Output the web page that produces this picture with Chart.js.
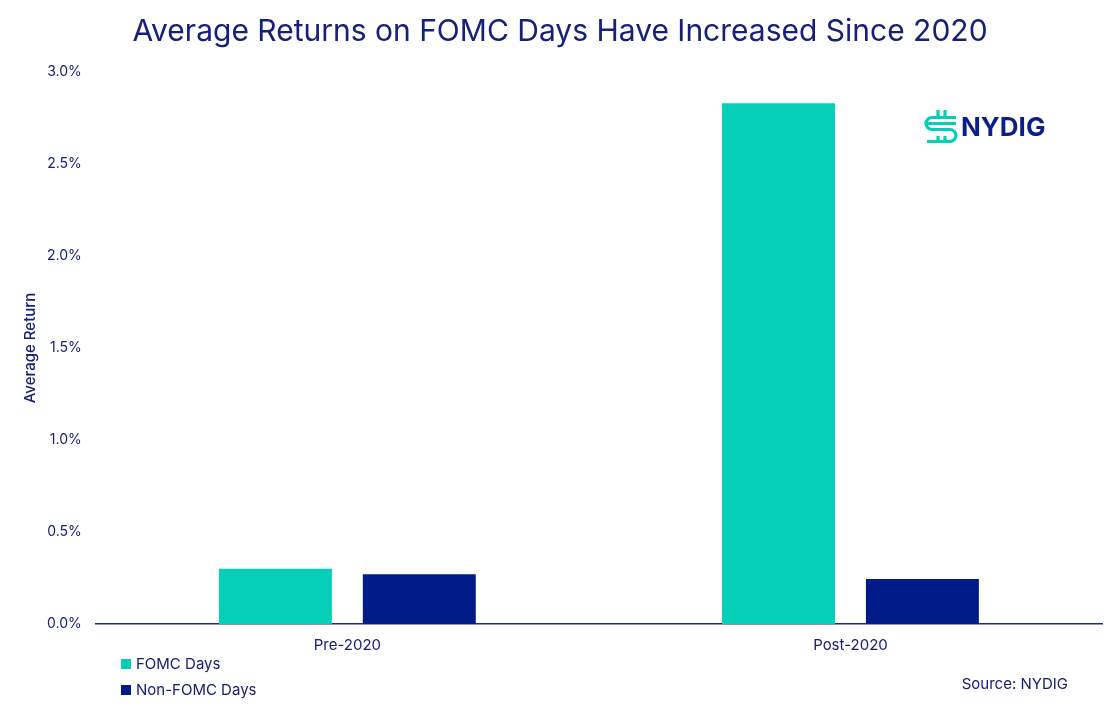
<!DOCTYPE html>
<html>
<head>
<meta charset="utf-8">
<script src="https://cdn.jsdelivr.net/npm/chart.js@4"></script>
<style>
  body { margin: 0; background: #fff; }
  #wrap { width: 1120px; height: 705px; position: relative; }
</style>
</head>
<body>
<div id="wrap"><canvas id="myChart"></canvas></div>
<script>
const categories = ['Pre-2020', 'Post-2020']
const fomcDays = [0.30, 2.83]
const nonFomcDays = [0.27, 0.245]
const yTicks = [0, 0.5, 1.0, 1.5, 2.0, 2.5, 3.0]

const teal = '#05CFB7'
const navy = '#001A87'
const textColor = '#14207A'

// title, legend, source and logo drawn by hand after the chart
const extras = {
    id: 'extras',
    afterDraw(chart) {
        const ctx = chart.ctx
        ctx.save()
        // title, centred on the page
        ctx.fillStyle = textColor
        ctx.font = '30px Inter'
        ctx.textAlign = 'center'
        ctx.textBaseline = 'middle'
        ctx.fillText('Average Returns on FOMC Days Have Increased Since 2020', 560, 32)
        // legend
        chart.data.datasets.forEach((ds, i) => {
            const y = 664 + i * 26
            ctx.fillStyle = ds.backgroundColor
            ctx.fillRect(121, y - 5, 10, 10)
            ctx.fillStyle = textColor
            ctx.font = '15px Inter'
            ctx.textBaseline = 'middle'
            ctx.textAlign = 'left'
            ctx.fillText(ds.label, 136, y)
        })
        // source
        ctx.textAlign = 'right'
        ctx.fillText('Source: NYDIG', 1068, 684)
        // logo icon
        ctx.strokeStyle = teal
        ctx.lineWidth = 3.2
        ctx.lineCap = 'butt'
        ctx.beginPath()
        ctx.moveTo(938, 110); ctx.lineTo(938, 117)
        ctx.moveTo(945, 110); ctx.lineTo(945, 117)
        ctx.moveTo(956, 117.5); ctx.lineTo(932, 117.5)
        ctx.arc(932, 123.5, 6, -Math.PI / 2, Math.PI / 2, true)
        ctx.lineTo(950, 129.5)
        ctx.arc(950, 135.5, 6, -Math.PI / 2, Math.PI / 2, false)
        ctx.lineTo(927, 141.5)
        ctx.moveTo(938, 141.5); ctx.lineTo(938, 136)
        ctx.moveTo(945, 141.5); ctx.lineTo(945, 136)
        ctx.moveTo(927, 123.5); ctx.lineTo(956, 123.5)
        ctx.stroke()
        // logo text
        ctx.fillStyle = '#0B1F8A'
        ctx.font = 'bold 26px Inter'
        ctx.textAlign = 'left'
        ctx.textBaseline = 'alphabetic'
        ctx.fillText('NYDIG', 961, 136)
        ctx.restore()
    }
}

const ctx = document.getElementById('myChart')
const myChart = new Chart(ctx, {
    type: 'bar',
    data: {
        labels: categories,
        datasets: [{
            label: 'FOMC Days',
            data: fomcDays,
            backgroundColor: teal,
            categoryPercentage: 0.572,
            barPercentage: 0.785
        }, {
            label: 'Non-FOMC Days',
            data: nonFomcDays,
            backgroundColor: navy,
            categoryPercentage: 0.572,
            barPercentage: 0.785
        }]
    },
    options: {
        responsive: true,
        maintainAspectRatio: false,
        animation: false,
        layout: { padding: { top: 72, right: 18, bottom: 39, left: 4 } },
        plugins: {
            legend: { display: false },
            tooltip: { enabled: false },
            title: { display: false }
        },
        scales: {
            x: {
                grid: { display: false, drawTicks: false },
                border: { color: '#1E2A8A', width: 1.5 },
                ticks: { color: textColor, font: { family: 'Inter', size: 15 }, padding: 12 }
            },
            y: {
                min: 0,
                max: 3.0,
                afterBuildTicks: (axis) => { axis.ticks = yTicks.map((v) => ({ value: v })) },
                grid: { display: false, drawTicks: false },
                border: { display: false },
                ticks: {
                    color: textColor,
                    font: { family: 'Inter', size: 14 },
                    padding: 14,
                    callback: (v) => v.toFixed(1) + '%'
                },
                title: {
                    display: true,
                    text: 'Average Return',
                    color: textColor,
                    font: { family: 'Inter', size: 15, weight: '500' },
                    padding: { top: 17, bottom: -6 }
                }
            }
        }
    },
    plugins: [extras]
})
</script>
</body>
</html>
